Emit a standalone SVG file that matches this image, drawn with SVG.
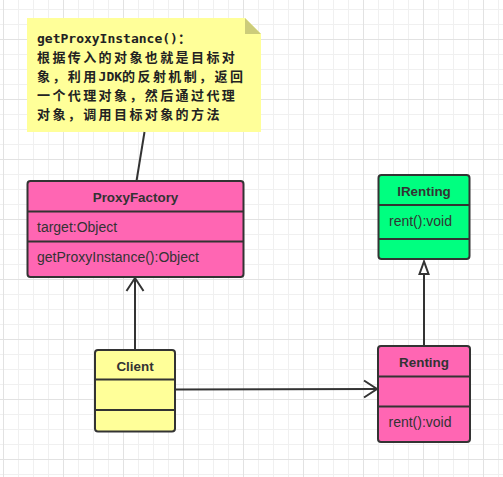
<svg xmlns="http://www.w3.org/2000/svg" width="503" height="477" viewBox="0 0 503 477">
<defs>
<pattern id="grid" x="3" y="-21" width="60" height="60" patternUnits="userSpaceOnUse">
<path d="M15.5 0V60M30.5 0V60M45.5 0V60M0 15.5H60M0 30.5H60M0 45.5H60" stroke="#f0f0f0" stroke-width="1" fill="none"/>
<path d="M0.5 0V60M0 0.5H60" stroke="#e2e2e2" stroke-width="1" fill="none"/>
</pattern>
<style>
.box{stroke:#333;stroke-width:2}
.div{stroke:#333;stroke-width:2;fill:none}
.title{font-family:"Liberation Sans",Arial,sans-serif;font-weight:bold;font-size:13.4px;fill:#333;text-anchor:middle}
.attr{font-family:"Liberation Sans",Arial,sans-serif;font-size:14px;fill:#333}
.note{font-family:"Noto Sans CJK SC",sans-serif;font-weight:bold;font-size:13px;letter-spacing:2.4px;fill:#222}
.mono{font-family:"DejaVu Sans Mono","Liberation Mono","Noto Sans CJK SC",monospace;font-size:13px;font-weight:bold;letter-spacing:0}
.edge{stroke:#333;stroke-width:2;fill:none}
</style>
</defs>
<rect width="503" height="477" fill="#ffffff"/>
<rect width="503" height="477" fill="url(#grid)"/>

<g id="note">
<path d="M27 18H245L261 34V132H27Z" fill="#ffff99"/>
<path d="M245 18V34H261Z" fill="#cccc7a"/>
<text class="note" x="37" y="43"><tspan class="mono">getProxyInstance()</tspan>：</text>
<text class="note" x="37" y="62">根据传入的对象也就是目标对</text>
<text class="note" x="37" y="81">象，利用<tspan class="mono">JDK</tspan>的反射机制，返回</text>
<text class="note" x="37" y="100">一个代理对象，然后通过代理</text>
<text class="note" x="37" y="119">对象，调用目标对象的方法</text>
</g>

<g id="connectors">
<line class="edge" x1="144.5" y1="132" x2="136.5" y2="181"/>
<line class="edge" x1="135" y1="350" x2="135" y2="278"/>
<polyline class="edge" points="126.5,291 135,278 143.5,291"/>
<line class="edge" x1="175" y1="389.5" x2="377" y2="389"/>
<polyline class="edge" points="364,380.5 377,389 364,397.5"/>
<line class="edge" x1="424" y1="346" x2="424" y2="274"/>
<polygon class="edge" points="424,261.5 419.5,274 428.5,274" style="fill:#ffffff"/>
</g>

<g id="ProxyFactory">
<rect class="box" x="27.5" y="181" width="216" height="96" rx="3" fill="#ff66b3"/>
<line class="div" x1="27.5" y1="211.5" x2="243.5" y2="211.5"/>
<line class="div" x1="27.5" y1="241.5" x2="243.5" y2="241.5"/>
<text class="title" x="135.5" y="202">ProxyFactory</text>
<text class="attr" x="37" y="232">target:Object</text>
<text class="attr" x="37" y="262">getProxyInstance():Object</text>
</g>

<g id="IRenting">
<rect class="box" x="378.5" y="175" width="91" height="84" rx="3" fill="#00ff80"/>
<line class="div" x1="378.5" y1="205" x2="469.5" y2="205"/>
<line class="div" x1="378.5" y1="239" x2="469.5" y2="239"/>
<text class="title" x="424" y="196">IRenting</text>
<text class="attr" x="389" y="226">rent():void</text>
</g>

<g id="Renting">
<rect class="box" x="378" y="346" width="92" height="96" rx="3" fill="#ff66b3"/>
<line class="div" x1="378" y1="376.5" x2="470" y2="376.5"/>
<line class="div" x1="378" y1="406.5" x2="470" y2="406.5"/>
<text class="title" x="424" y="367">Renting</text>
<text class="attr" x="388.5" y="427">rent():void</text>
</g>

<g id="Client">
<rect class="box" x="95" y="350" width="80" height="81.5" rx="3" fill="#ffff99"/>
<line class="div" x1="95" y1="379.5" x2="175" y2="379.5"/>
<line class="div" x1="95" y1="410" x2="175" y2="410"/>
<text class="title" x="135" y="371">Client</text>
</g>
</svg>
